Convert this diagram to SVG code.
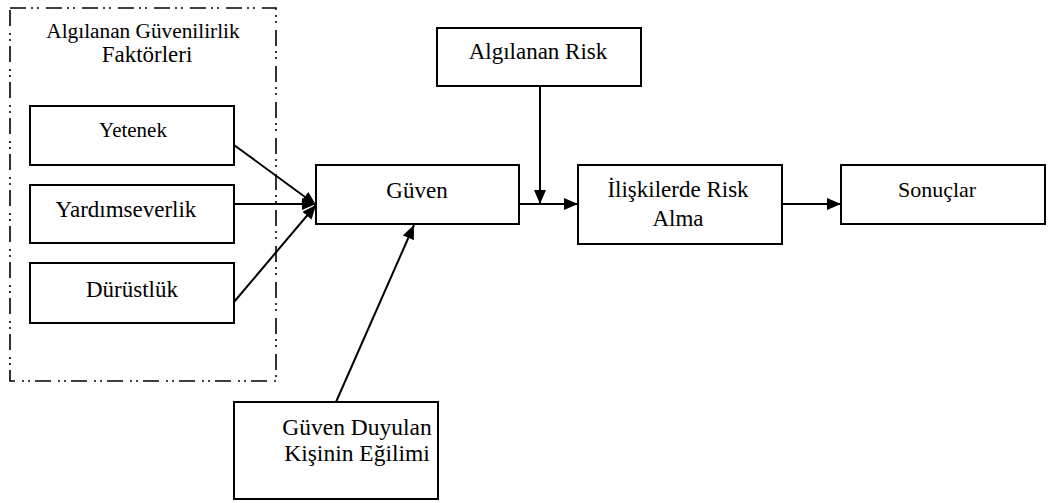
<svg xmlns="http://www.w3.org/2000/svg" width="1062" height="503" viewBox="0 0 1062 503">
<style>
.box{fill:#fff;stroke:#000;stroke-width:2}
.t{font-family:"Liberation Serif","DejaVu Serif",serif;font-size:23px;fill:#000;text-anchor:middle}
.c{stroke:#000;stroke-width:2;fill:none}
.grp{fill:none;stroke:#000;stroke-width:1.6;stroke-dasharray:16 5 2 4 2 7}
</style>
<defs>
<marker id="ah" viewBox="0 0 14 12" refX="14" refY="6" markerWidth="14" markerHeight="12" markerUnits="userSpaceOnUse" orient="auto">
<path d="M0,0 L14,6 L0,12 Z" fill="#000"/>
</marker>
</defs>
<rect width="1062" height="503" fill="#fff"/>
<g id="factors-group">
<rect class="grp" x="10" y="8" width="266" height="373"/>
<text class="t" x="143" y="38" style="font-size:21.3px">Algılanan Güvenilirlik</text>
<text class="t" x="147" y="62">Faktörleri</text>
</g>
<g id="yetenek">
<rect class="box" x="30" y="106" width="204" height="59"/>
<text class="t" x="133" y="137" style="font-size:21px">Yetenek</text>
</g>
<g id="yardimseverlik">
<rect class="box" x="30" y="185" width="204" height="58"/>
<text class="t" x="126" y="217">Yardımseverlik</text>
</g>
<g id="durustluk">
<rect class="box" x="30" y="263" width="204" height="60"/>
<text class="t" x="132" y="297">Dürüstlük</text>
</g>
<g id="guven">
<rect class="box" x="316" y="165" width="203" height="59"/>
<text class="t" x="417" y="198">Güven</text>
</g>
<g id="algilanan-risk">
<rect class="box" x="437" y="28" width="204" height="58"/>
<text class="t" x="538" y="59">Algılanan Risk</text>
</g>
<g id="iliskilerde-risk-alma">
<rect class="box" x="578" y="165" width="204" height="79"/>
<text class="t" x="678" y="197">İlişkilerde Risk</text>
<text class="t" x="678" y="226">Alma</text>
</g>
<g id="sonuclar">
<rect class="box" x="841" y="165" width="204" height="59"/>
<text class="t" x="937" y="197" style="font-size:22px">Sonuçlar</text>
</g>
<g id="guven-duyulan">
<rect class="box" x="234" y="402" width="204" height="97"/>
<text class="t" x="357" y="435" style="font-size:23.5px">Güven Duyulan</text>
<text class="t" x="357" y="461" style="font-size:23.5px">Kişinin Eğilimi</text>
</g>
<g id="connectors">
<line class="c" x1="234" y1="145" x2="316" y2="205" marker-end="url(#ah)"/>
<line class="c" x1="234" y1="204" x2="316" y2="204" marker-end="url(#ah)"/>
<line class="c" x1="234" y1="302" x2="316" y2="205" marker-end="url(#ah)"/>
<line class="c" x1="519" y1="204" x2="578" y2="204" marker-end="url(#ah)"/>
<line class="c" x1="540" y1="86" x2="540" y2="204" marker-end="url(#ah)"/>
<line class="c" x1="782" y1="204" x2="841" y2="204" marker-end="url(#ah)"/>
<line class="c" x1="336" y1="402" x2="414" y2="225" marker-end="url(#ah)"/>
</g>
</svg>
